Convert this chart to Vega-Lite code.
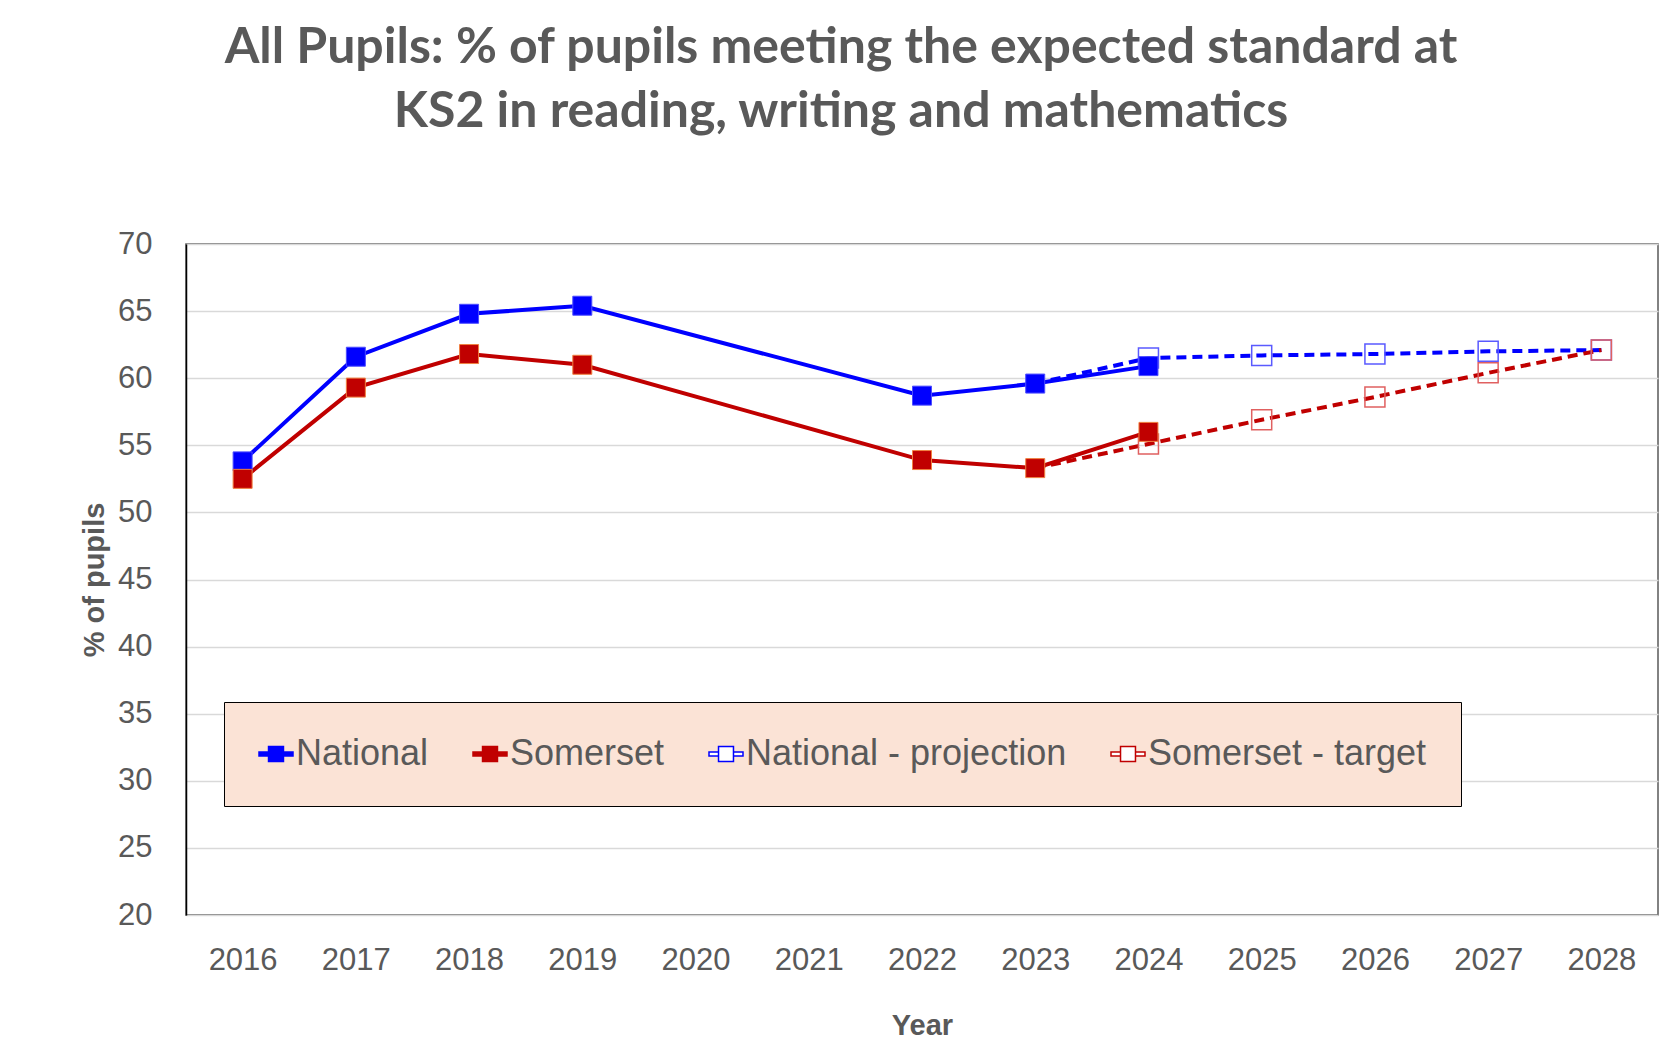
{
  "$schema": "https://vega.github.io/schema/vega-lite/v6.json",
  "width": 1472,
  "height": 671,
  "autosize": {"type": "none"},
  "padding": {"left": 186, "top": 244, "right": 17, "bottom": 142},
  "background": "#ffffff",
  "title": {
    "text": ["All Pupils: % of pupils meeting the expected standard at", "KS2 in reading, writing and mathematics"],
    "font": "Lato",
    "fontSize": 50,
    "fontWeight": "bold",
    "color": "#595959",
    "lineHeight": 64,
    "anchor": "middle",
    "dx": -81,
    "offset": 91
  },
  "config": {
    "view": {"stroke": "#595959", "strokeWidth": 1.5},
    "axis": {
      "labelFont": "Liberation Sans",
      "titleFont": "Liberation Sans",
      "labelColor": "#595959",
      "titleColor": "#595959"
    }
  },
  "data": {
    "values": [
      {"year": 2016, "value": 53.8, "series": "National", "kind": "actual"},
      {"year": 2017, "value": 61.6, "series": "National", "kind": "actual"},
      {"year": 2018, "value": 64.8, "series": "National", "kind": "actual"},
      {"year": 2019, "value": 65.4, "series": "National", "kind": "actual"},
      {"year": 2022, "value": 58.7, "series": "National", "kind": "actual"},
      {"year": 2023, "value": 59.6, "series": "National", "kind": "actual"},
      {"year": 2024, "value": 60.9, "series": "National", "kind": "actual"},
      {"year": 2016, "value": 52.5, "series": "Somerset", "kind": "actual"},
      {"year": 2017, "value": 59.3, "series": "Somerset", "kind": "actual"},
      {"year": 2018, "value": 61.8, "series": "Somerset", "kind": "actual"},
      {"year": 2019, "value": 61.0, "series": "Somerset", "kind": "actual"},
      {"year": 2022, "value": 53.9, "series": "Somerset", "kind": "actual"},
      {"year": 2023, "value": 53.3, "series": "Somerset", "kind": "actual"},
      {"year": 2024, "value": 56.0, "series": "Somerset", "kind": "actual"},
      {"year": 2023, "value": 59.6, "series": "National - projection", "kind": "future"},
      {"year": 2024, "value": 61.5, "series": "National - projection", "kind": "future"},
      {"year": 2025, "value": 61.7, "series": "National - projection", "kind": "future"},
      {"year": 2026, "value": 61.8, "series": "National - projection", "kind": "future"},
      {"year": 2027, "value": 62.0, "series": "National - projection", "kind": "future"},
      {"year": 2028, "value": 62.1, "series": "National - projection", "kind": "future"},
      {"year": 2023, "value": 53.3, "series": "Somerset - target", "kind": "future"},
      {"year": 2024, "value": 55.1, "series": "Somerset - target", "kind": "future"},
      {"year": 2025, "value": 56.9, "series": "Somerset - target", "kind": "future"},
      {"year": 2026, "value": 58.6, "series": "Somerset - target", "kind": "future"},
      {"year": 2027, "value": 60.4, "series": "Somerset - target", "kind": "future"},
      {"year": 2028, "value": 62.1, "series": "Somerset - target", "kind": "future"}
    ]
  },
  "encoding": {
    "x": {
      "field": "year",
      "type": "quantitative",
      "scale": {"domain": [2015.5, 2028.5], "nice": false, "zero": false},
      "axis": {
        "values": [2016, 2017, 2018, 2019, 2020, 2021, 2022, 2023, 2024, 2025, 2026, 2027, 2028],
        "format": "d",
        "title": "Year",
        "grid": false,
        "ticks": false,
        "domain": false,
        "labelFontSize": 31,
        "labelPadding": 30,
        "titleFontSize": 29,
        "titleFontWeight": "bold",
        "titlePadding": 36
      }
    },
    "y": {
      "field": "value",
      "type": "quantitative",
      "scale": {"domain": [20, 70], "nice": false, "zero": false},
      "axis": {
        "values": [20, 25, 30, 35, 40, 45, 50, 55, 60, 65, 70],
        "title": "% of pupils",
        "grid": true,
        "gridColor": "#d9d9d9",
        "gridWidth": 1.5,
        "ticks": false,
        "domain": true,
        "domainColor": "#000000",
        "domainWidth": 1.5,
        "labelFontSize": 31,
        "labelPadding": 34,
        "titleFontSize": 29,
        "titleFontWeight": "bold",
        "titlePadding": 8
      }
    }
  },
  "layer": [
    {
      "transform": [{"filter": "datum.kind === 'future'"}],
      "mark": {"type": "line", "strokeWidth": 4, "strokeDash": [10, 6]},
      "encoding": {
        "color": {
          "field": "series",
          "type": "nominal",
          "scale": {
            "domain": ["National", "Somerset", "National - projection", "Somerset - target"],
            "range": ["#0000ff", "#c00000", "#0000ff", "#c00000"]
          },
          "legend": {
            "title": null,
            "orient": "none",
            "legendX": 38,
            "legendY": 458,
            "direction": "horizontal",
            "columns": 4,
            "columnPadding": 41,
            "padding": 34,
            "fillColor": "#fbe3d6",
            "strokeColor": "#000000",
            "labelFont": "Liberation Sans",
            "labelFontSize": 36,
            "labelLimit": 0,
            "labelColor": "#595959",
            "labelOffset": 2,
            "symbolType": "M-1,-0.12H-0.44V0.12H-1Z M0.44,-0.12H1V0.12H0.44Z M-0.44,-0.44H0.44V0.44H-0.44Z",
            "symbolSize": 1156,
            "symbolStrokeWidth": 1.5,
            "encode": {
              "symbols": {
                "update": {
                  "fill": {"signal": "datum.value === 'National' ? '#0000ff' : datum.value === 'Somerset' ? '#c00000' : '#ffffff'"},
                  "stroke": {"signal": "indexof(datum.value, 'National') === 0 ? '#0000ff' : '#c00000'"},
                  "strokeWidth": {"value": 1.5},
                  "strokeDash": {"value": []}
                }
              }
            }
          }
        }
      }
    },
    {
      "transform": [{"filter": "datum.kind === 'future' && datum.year > 2023"}],
      "mark": {"type": "point", "shape": "square", "size": 400, "filled": false, "fill": "#ffffff", "fillOpacity": 0, "strokeWidth": 1.5, "opacity": 1},
      "encoding": {
        "stroke": {
          "condition": {"test": "indexof(datum.series, 'National') === 0", "value": "#5a5aff"},
          "value": "#e06060"
        }
      }
    },
    {
      "transform": [{"filter": "datum.kind === 'actual'"}],
      "mark": {"type": "line", "strokeWidth": 4},
      "encoding": {
        "color": {"field": "series", "type": "nominal"}
      }
    },
    {
      "transform": [{"filter": "datum.kind === 'actual'"}],
      "mark": {"type": "point", "shape": "square", "size": 361, "filled": true, "opacity": 1, "strokeWidth": 1},
      "encoding": {
        "fill": {
          "condition": {"test": "datum.series === 'National'", "value": "#0000ff"},
          "value": "#c00000"
        },
        "stroke": {
          "condition": {"test": "datum.series === 'National'", "value": "#4d4dff"},
          "value": "#f08040"
        }
      }
    }
  ]
}
